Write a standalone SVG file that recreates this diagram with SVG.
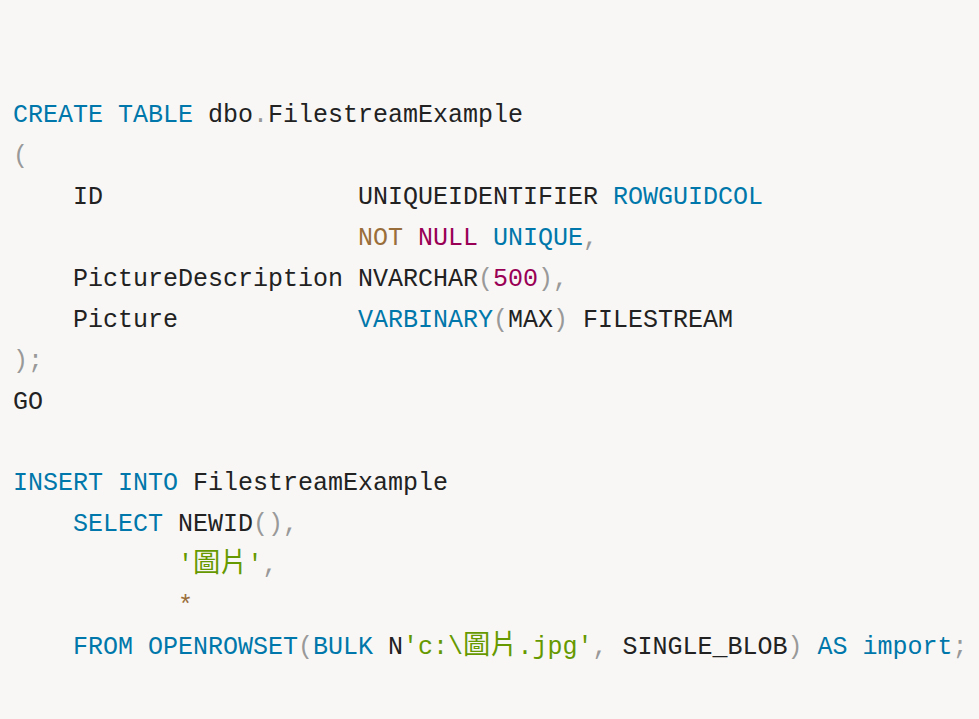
<svg xmlns="http://www.w3.org/2000/svg" width="979" height="719" viewBox="0 0 979 719">
<style>
text{font-family:"Liberation Mono","DejaVu Sans Mono",monospace;font-size:25px;fill:#222;white-space:pre}
.k{fill:#0077aa}
.p{fill:#999999}
.s{fill:#669900}
.n{fill:#990055}
.o{fill:#9a6e3a}
.cjk{font-family:"Noto Sans CJK TC","Noto Sans CJK SC",sans-serif;font-size:27.3px}
</style>
<rect x="0" y="0" width="979" height="719" fill="#f8f7f5"/>
<g id="code" xml:space="preserve">
<text id="l1" y="122"><tspan x="13" class="k">CREATE</tspan><tspan x="118" class="k">TABLE</tspan><tspan x="208">dbo</tspan><tspan x="253" class="p">.</tspan><tspan x="268">FilestreamExample</tspan></text>
<text id="l2" y="163"><tspan x="13" class="p">(</tspan></text>
<text id="l3" y="204"><tspan x="73">ID</tspan><tspan x="358">UNIQUEIDENTIFIER</tspan><tspan x="613" class="k">ROWGUIDCOL</tspan></text>
<text id="l4" y="245"><tspan x="358" class="o">NOT</tspan><tspan x="418" class="n">NULL</tspan><tspan x="493" class="k">UNIQUE</tspan><tspan x="583" class="p">,</tspan></text>
<text id="l5" y="286"><tspan x="73">PictureDescription</tspan><tspan x="358">NVARCHAR</tspan><tspan x="478" class="p">(</tspan><tspan x="493" class="n">500</tspan><tspan x="538" class="p">),</tspan></text>
<text id="l6" y="327"><tspan x="73">Picture</tspan><tspan x="358" class="k">VARBINARY</tspan><tspan x="493" class="p">(</tspan><tspan x="508">MAX</tspan><tspan x="553" class="p">)</tspan><tspan x="583">FILESTREAM</tspan></text>
<text id="l7" y="368"><tspan x="13" class="p">);</tspan></text>
<text id="l8" y="409"><tspan x="13">GO</tspan></text>
<text id="l10" y="490"><tspan x="13" class="k">INSERT</tspan><tspan x="118" class="k">INTO</tspan><tspan x="193">FilestreamExample</tspan></text>
<text id="l11" y="531"><tspan x="73" class="k">SELECT</tspan><tspan x="178">NEWID</tspan><tspan x="253" class="p">(),</tspan></text>
<text id="l12" y="572"><tspan x="178" class="s">'</tspan><tspan x="193" class="s cjk">圖片</tspan><tspan x="247.6" class="s">'</tspan><tspan x="262.6" class="p">,</tspan></text>
<text id="l13" y="613"><tspan x="178" class="o">*</tspan></text>
<text id="l14" y="654"><tspan x="73" class="k">FROM</tspan><tspan x="148" class="k">OPENROWSET</tspan><tspan x="298" class="p">(</tspan><tspan x="313" class="k">BULK</tspan><tspan x="388">N</tspan><tspan x="403" class="s">'c:\</tspan><tspan x="463" class="s cjk">圖片</tspan><tspan x="517.6" class="s">.jpg'</tspan><tspan x="592.6" class="p">,</tspan><tspan x="622.6">SINGLE_BLOB</tspan><tspan x="787.6" class="p">)</tspan><tspan x="817.6" class="k">AS</tspan><tspan x="862.6" class="k">import</tspan><tspan x="952.6" class="p">;</tspan></text>
</g>
</svg>
